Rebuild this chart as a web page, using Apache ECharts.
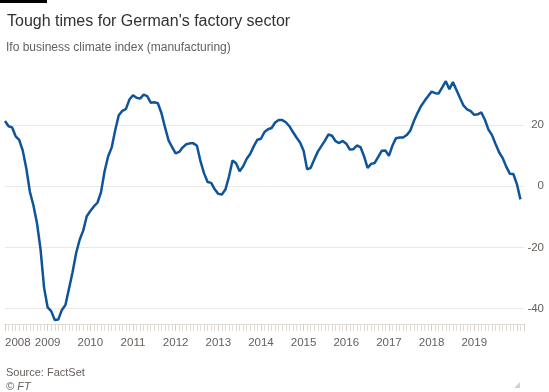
<!DOCTYPE html>
<html><head><meta charset="utf-8">
<script src="https://cdn.jsdelivr.net/npm/echarts@6/dist/echarts.min.js"></script>
<style>html,body{margin:0;padding:0;background:#fff}#c{width:549px;height:392px}</style>
</head><body><div id="c"></div>
<script>
// Monthly index values, starting January of startYear
const startYear = 2008;
const yearLabels = [2008, 2009, 2010, 2011, 2012, 2013, 2014, 2015, 2016, 2017, 2018, 2019];
const yTickValues = [-40, -20, 0, 20];
const monthlyValues = [
  21.3, 19.6, 19.2, 16.3, 15.1, 11.6, 5.8, -1.8, -6.3, -12.1, -20.6, -33.2,
  -39.6, -40.8, -43.7, -43.5, -40.4, -38.8, -33.5, -28.1, -21.9, -17.5, -14.5, -9.8,
  -8.1, -6.6, -5.4, -2.0, 4.8, 9.7, 12.6, 18.3, 23.2, 24.6, 25.2, 28.3,
  29.7, 28.9, 28.6, 29.9, 29.4, 27.3, 27.4, 27.1, 23.9, 19.3, 15.0, 12.8,
  10.7, 11.2, 12.7, 13.7, 14.0, 14.0, 13.2, 8.1, 4.2, 1.4, 1.1, -1.0,
  -2.5, -2.7, -1.1, 3.1, 8.4, 7.5, 4.9, 6.5, 9.0, 10.6, 13.1, 15.2,
  15.5, 17.7, 18.6, 19.0, 20.8, 21.6, 21.6, 20.9, 19.6, 17.7, 15.9, 14.3,
  11.6, 5.5, 6.0, 8.7, 11.3, 13.1, 14.9, 16.9, 16.5, 14.7, 14.1, 14.8,
  13.9, 12.0, 12.1, 13.3, 12.8, 9.8, 6.0, 7.3, 7.6, 9.6, 11.6, 11.7,
  9.9, 13.3, 15.7, 15.9, 15.9, 16.7, 18.1, 21.2, 23.8, 26.1, 27.8, 29.4,
  30.9, 30.4, 30.3, 32.3, 34.3, 31.7, 34.0, 31.4, 28.8, 26.3, 25.1, 24.5,
  23.3, 23.5, 24.1, 21.7, 18.5, 16.7, 13.8, 11.1, 9.2, 6.4, 4.1, 4.0,
  0.7, -4.3
];

const FONT = 'Liberation Sans, Arial, sans-serif';
const chart = echarts.init(document.getElementById('c'), null, {renderer: 'canvas'});
const lastYearIdx = (yearLabels[yearLabels.length - 1] - startYear) * 12;

chart.setOption({
  animation: false,
  backgroundColor: '#ffffff',
  title: [
    {text: "Tough times for German's factory sector", left: 2, top: 9,
     textStyle: {fontFamily: FONT, fontSize: 16, fontWeight: 'normal', color: '#33302e'}},
    {text: 'Ifo business climate index (manufacturing)', left: 1, top: 37,
     textStyle: {fontFamily: FONT, fontSize: 12, fontWeight: 'normal', color: '#66605c'}},
    {text: 'Source: FactSet', left: 1, top: 362,
     textStyle: {fontFamily: FONT, fontSize: 11, fontWeight: 'normal', color: '#66605c'}},
    {text: '© FT', left: 1, top: 376,
     textStyle: {fontFamily: FONT, fontSize: 11, fontWeight: 'normal', fontStyle: 'italic', color: '#66605c'}}
  ],
  graphic: [
    {type: 'rect', left: 0, top: 0, shape: {width: 47, height: 3}, style: {fill: '#000000'}},
    {type: 'polygon', shape: {points: [[520, 382], [520, 388], [514, 388]]}, style: {fill: '#d6d0ca'}}
  ],
  grid: {left: 5, top: 76, width: 519, height: 248, containLabel: false, outerBoundsMode: 'none'},
  xAxis: {
    type: 'value', min: 0, max: monthlyValues.length, interval: 12,
    axisLine: {show: true, onZero: false, lineStyle: {color: '#e0d9d2', width: 1}},
    axisTick: {show: true, length: 7, lineStyle: {color: '#d6cec6'}},
    minorTick: {show: true, splitNumber: 12, length: 7, lineStyle: {color: '#e3ddd7'}},
    splitLine: {show: false},
    axisLabel: {
      margin: 13, color: '#66605c', fontFamily: FONT, fontSize: 11.5,
      showMaxLabel: false, alignMinLabel: 'left',
      formatter: v => (v % 12 === 0 && v <= lastYearIdx) ? String(yearLabels[v / 12]) : ''
    }
  },
  yAxis: {
    type: 'value', position: 'right', min: -45, max: 36,
    axisLine: {show: false}, axisTick: {show: false},
    splitLine: {show: true, showMinLine: false, showMaxLine: false, lineStyle: {color: '#eee8e2', width: 1}},
    axisLabel: {
      margin: 20, align: 'right', color: '#66605c', fontFamily: FONT, fontSize: 11.5,
      showMinLabel: false, showMaxLabel: false,
      formatter: v => yTickValues.indexOf(v) >= 0 ? String(v) : ''
    }
  },
  series: [{
    type: 'line', showSymbol: false, symbol: 'none',
    data: monthlyValues.map((v, i) => [i, v]),
    lineStyle: {color: '#0f5499', width: 2.5},
    z: 5
  }]
});
</script></body></html>
